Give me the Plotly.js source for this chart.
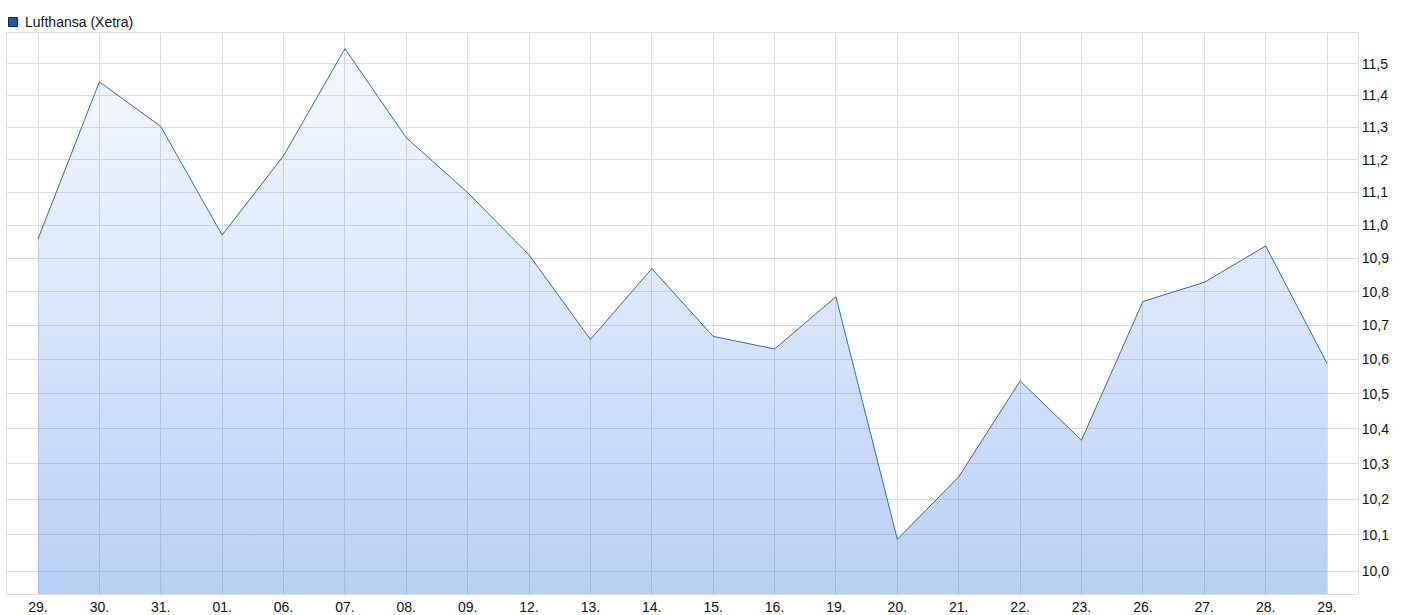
<!DOCTYPE html>
<html>
<head>
<meta charset="utf-8">
<script src="https://cdn.plot.ly/plotly-3.0.1.min.js"></script>
<style>
  html, body { margin: 0; padding: 0; background: #fff; }
  #chart { width: 1410px; height: 615px; }
</style>
</head>
<body>
<div id="chart"></div>
<script>
// Data
const dateLabels = ["29.", "30.", "31.", "01.", "06.", "07.", "08.", "09.", "12.", "13.", "14.", "15.", "16.", "19.", "20.", "21.", "22.", "23.", "26.", "27.", "28.", "29."];
const prices = [10.958, 11.443, 11.303, 10.970, 11.212, 11.548, 11.268, 11.099, 10.910, 10.659, 10.869, 10.668, 10.631, 10.785, 10.088, 10.263, 10.538, 10.367, 10.771, 10.828, 10.937, 10.589];
const seriesName = "Lufthansa (Xetra)";
const yTickValues = [10.0, 10.1, 10.2, 10.3, 10.4, 10.5, 10.6, 10.7, 10.8, 10.9, 11.0, 11.1, 11.2, 11.3, 11.4, 11.5];
const yTickLabels = ["10,0", "10,1", "10,2", "10,3", "10,4", "10,5", "10,6", "10,7", "10,8", "10,9", "11,0", "11,1", "11,2", "11,3", "11,4", "11,5"];

const xIdx = dateLabels.map((_, i) => i);
const yMin = 9.937, yMax = 11.598;

const W = 1410, H = 615;
const M = { l: 7, r: 52, t: 33, b: 21 };
const plotW = W - M.l - M.r, plotH = H - M.t - M.b;
const px2x = p => (p - M.l) / plotW;
const px2y = p => 1 + (M.t - p) / plotH;

const fillTrace = {
  x: xIdx,
  y: prices,
  type: 'scatter',
  mode: 'lines',
  name: seriesName,
  line: { color: '#2f66cc', width: 1 },
  fill: 'tozeroy',
  fillgradient: {
    type: 'vertical',
    start: yMin,
    stop: 11.548,
    colorscale: [[0, 'rgba(70,130,230,0.38)'], [1, 'rgba(70,130,230,0.045)']]
  },
  showlegend: false,
  hoverinfo: 'x+y'
};

const layout = {
  width: W,
  height: H,
  margin: { l: M.l, r: M.r, t: M.t, b: M.b, pad: 0 },
  paper_bgcolor: '#ffffff',
  plot_bgcolor: '#ffffff',
  font: { family: 'Liberation Sans, Arial, sans-serif', size: 14, color: '#111' },
  showlegend: false,
  shapes: [{
    type: 'rect', xref: 'paper', yref: 'paper',
    x0: px2x(8.5), x1: px2x(17.5), y0: px2y(26.5), y1: px2y(17.5),
    fillcolor: '#1f55c0', line: { color: '#0d2456', width: 1 }
  }],
  annotations: [{
    text: seriesName, xref: 'paper', yref: 'paper',
    x: px2x(23), y: px2y(22.5), xanchor: 'left', yanchor: 'middle',
    showarrow: false, font: { size: 14, color: '#111' }
  }],
  xaxis: {
    type: 'linear',
    range: [-0.505, 21.505],
    tickmode: 'array',
    tickvals: xIdx,
    ticktext: dateLabels,
    showgrid: true,
    gridcolor: '#dddddd',
    gridwidth: 1,
    zeroline: false,
    showline: true,
    linecolor: '#dddddd',
    linewidth: 1,
    mirror: true,
    ticks: '',
    tickfont: { size: 14, color: '#111' },
    fixedrange: true
  },
  yaxis: {
    type: 'log',
    side: 'right',
    range: [Math.log10(yMin), Math.log10(yMax)],
    tickmode: 'array',
    tickvals: yTickValues,
    ticktext: yTickLabels,
    showgrid: true,
    gridcolor: '#dddddd',
    gridwidth: 1,
    zeroline: false,
    showline: true,
    linecolor: '#dddddd',
    linewidth: 1,
    mirror: true,
    ticks: '',
    tickfont: { size: 14, color: '#111' },
    fixedrange: true
  }
};

Plotly.newPlot('chart', [fillTrace], layout, { displayModeBar: false, staticPlot: true });
</script>
</body>
</html>
